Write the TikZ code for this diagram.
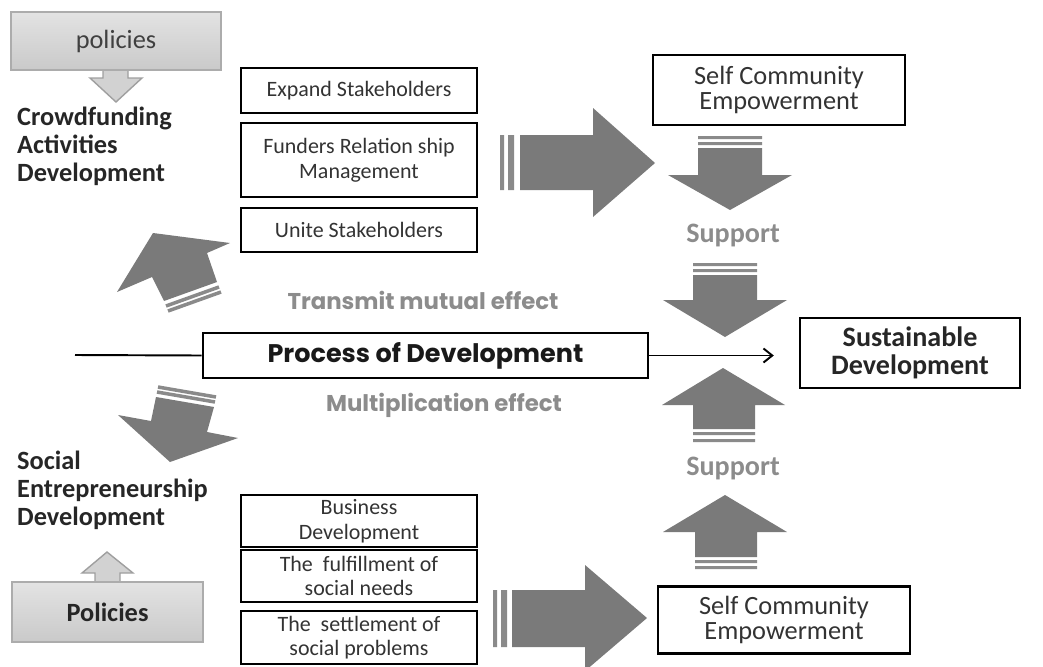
\documentclass[tikz,border=0pt]{standalone}
\usepackage{fontspec}
\setmainfont{Carlito}
\newfontfamily\geofont{Poppins}
\usetikzlibrary{arrows.meta}

\definecolor{arrowgray}{HTML}{7A7A7A}
\definecolor{stripegray}{HTML}{8A8A8A}
\definecolor{labelgray}{HTML}{8C8C8C}
\definecolor{hollowfill}{HTML}{D2D2D2}

\tikzset{
  box/.style={draw, line width=1.3pt, align=center, inner sep=1pt, minimum width=4.72cm,
    text=black!80, font=\fontsize{12.5}{14}\selectfont},
  selfbox/.style={draw, line width=1.3pt, align=center, inner sep=1pt, minimum width=5.05cm,
    text=black!80, font=\fontsize{15}{14.7}\selectfont},
  policybox/.style={draw=gray!65, line width=1pt, top color=gray!22, bottom color=gray!42,
    align=center, inner sep=1pt},
  headline/.style={anchor=west, align=left, text=black!85,
    font=\bfseries\fontsize{15}{15.9}\selectfont},
  effect/.style={text=labelgray, font=\geofont\bfseries\fontsize{13}{15}\selectfont},
  support/.style={text=labelgray, font=\bfseries\fontsize{16}{18}\selectfont},
  bigarrow/.style={fill=arrowgray},
  stripe/.style={fill=stripegray},
  hollow/.style={fill=hollowfill, draw=gray!75, line width=0.8pt}
}

\begin{document}
\begin{tikzpicture}[x=0.02cm, y=-0.02cm]
    \useasboundingbox (0,0) rectangle (1043,666);

    % Small hollow arrows from the policies
    \draw[hollow] (103,70) -- (128,70) -- (128,78) -- (142,78) -- (116,102) -- (90,78) -- (103,78) -- cycle;
    \draw[hollow] (95,584) -- (95,573) -- (82,573) -- (107,552) -- (133,573) -- (120,573) -- (120,584) -- cycle;

    % Policy boxes
    \node[policybox, minimum width=4.2cm, minimum height=1.16cm, text=black!75,
      font=\fontsize{15}{17}\selectfont] (poltop) at (116,41) {policies};
    \node[policybox, minimum width=3.82cm, minimum height=1.2cm, text=black!85,
      font=\bfseries\fontsize{15}{17}\selectfont] (polbot) at (107.5,612) {Policies};

    % Left headings
    \node[headline] (crowd) at (11,146) {Crowdfunding\\Activities\\Development};
    \node[headline] (social) at (11,490) {Social\\Entrepreneurship\\Development};

    % Crowdfunding boxes
    \node[box, minimum height=0.9cm] (expand) at (359,90.5) {Expand Stakeholders};
    \node[box, minimum height=1.48cm] (funders) at (359,160) {Funders Relation ship\\Management};
    \node[box, minimum height=0.88cm] (unite) at (359,230) {Unite Stakeholders};

    % Social entrepreneurship boxes
    \node[box, minimum height=1.04cm] (business) at (359,521) {Business\\Development};
    \node[box, minimum height=1.04cm] (needs) at (359,576) {The~ fulfillment of\\social needs};
    \node[box, minimum height=1.06cm] (problems) at (359,637.5) {The~ settlement of\\social problems};

    % Community empowerment boxes
    \node[selfbox, minimum height=1.4cm] (selftop) at (779,90) {Self Community\\Empowerment};
    \node[selfbox, minimum height=1.34cm] (selfbot) at (784,620) {Self Community\\Empowerment};

    % Main line of development
    \coordinate (start) at (75,355);
    \node[draw, line width=1.6pt, fill=white, minimum width=8.9cm, minimum height=0.9cm,
      text=black!90, font=\geofont\bfseries\fontsize{14.5}{16}\selectfont] (proc) at (425.5,355.5) {Process of Development};
    \node[draw, line width=1.4pt, minimum width=4.4cm, minimum height=1.4cm, align=center,
      text=black!85, font=\bfseries\fontsize{16}{16}\selectfont] (sust) at (910,353) {Sustainable\\Development};
    \draw[line width=1.1pt] (start) -- (proc.west);
    \draw[line width=1.1pt, -{Straight Barb[length=5pt,width=8pt]}, shorten >=0.5cm] (proc.east) -- (proc.east -| sust.west);

    % Effect labels
    \node[effect] (transmit) at (423,300) {Transmit mutual effect};
    \node[effect] (multi) at (444,405) {Multiplication effect};
    \node[support] (suptop) at (733,235) {Support};
    \node[support] (supbot) at (733,468) {Support};

    % Big right arrows
    \fill[stripe] (500,135) rectangle (504,190) (508,135) rectangle (514,190);
    \fill[bigarrow] (520,135) -- (593,135) -- (593,108) -- (655,163) -- (593,217) -- (593,190) -- (520,190) -- cycle;
    \fill[stripe] (493,590) rectangle (497,647) (501,590) rectangle (507,647);
    \fill[bigarrow] (512,590) -- (585,590) -- (585,565) -- (647,618) -- (585,671) -- (585,647) -- (512,647) -- cycle;

    % Down arrows to sustainable development
    \fill[stripe] (698,136) rectangle (762,139) (698,142) rectangle (762,145);
    \fill[bigarrow] (698,148) -- (762,148) -- (762,175) -- (792,175) -- (730,210) -- (668,175) -- (698,175) -- cycle;
    \fill[stripe] (693,263) rectangle (757,266) (693,269) rectangle (757,272);
    \fill[bigarrow] (693,275) -- (757,275) -- (757,300) -- (787,300) -- (725,337) -- (663,300) -- (693,300) -- cycle;

    % Up arrows to sustainable development
    \fill[stripe] (693,432) rectangle (755,435) (693,439) rectangle (755,442);
    \fill[bigarrow] (693,429) -- (755,429) -- (755,405) -- (785,405) -- (723,368) -- (662,405) -- (693,405) -- cycle;
    \fill[stripe] (695,560) rectangle (757,563) (695,566) rectangle (757,569);
    \fill[bigarrow] (695,557) -- (757,557) -- (757,532) -- (787,532) -- (725,495) -- (663,532) -- (695,532) -- cycle;

    % Tilted arrows between the headings
    \fill[bigarrow] (153,233) -- (230,243) -- (207,253) -- (217,282) -- (164,301) -- (152,277) -- (117,292) -- cycle;
    \draw[stripegray, line width=2pt] (166,306) -- (219,287) (168,311) -- (221,292);
    \fill[bigarrow] (156,397) -- (214,407) -- (207,432) -- (238,438) -- (170,462) -- (118,415) -- (151,421) -- cycle;
    \draw[stripegray, line width=2pt] (157,392) -- (215,402) (158,387) -- (216,397);
\end{tikzpicture}
\end{document}
